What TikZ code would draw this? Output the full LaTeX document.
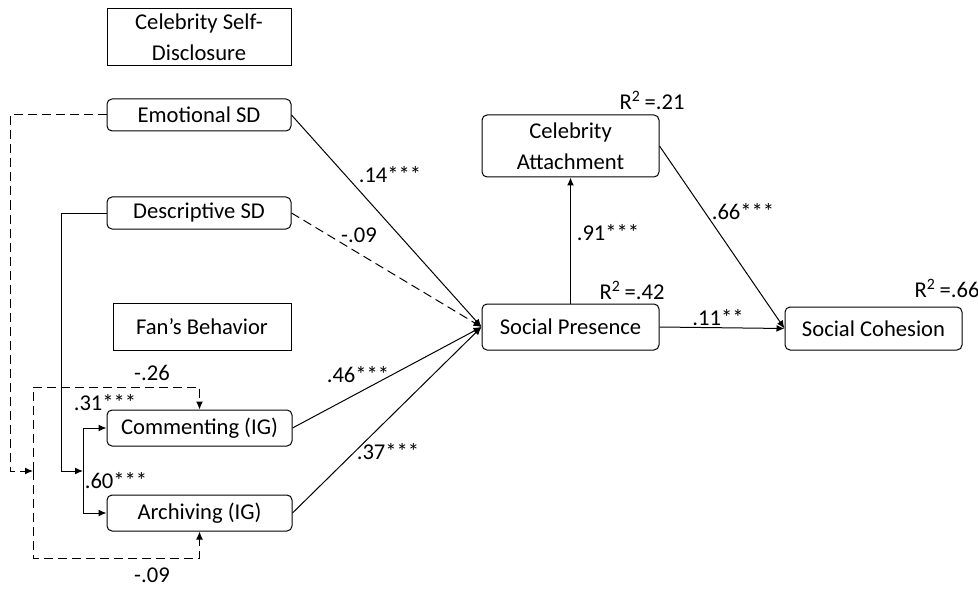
\documentclass[tikz,border=0pt]{standalone}
\usepackage{fontspec}
\setmainfont{Carlito}
\usetikzlibrary{arrows.meta}
\begin{document}
\begin{tikzpicture}[x=0.5pt, y=-0.5pt, >={Latex[length=4pt,width=3.4pt]},
    font=\fontsize{11.3}{15.5}\selectfont,
    box/.style={draw, rounded corners=2.5pt, align=center, inner sep=0pt, line width=0.5pt},
    hbox/.style={draw, align=center, inner sep=0pt, line width=0.5pt},
    arr/.style={->, line width=0.5pt},
    darr/.style={->, line width=0.5pt, dash pattern=on 4.5pt off 2.5pt}]
  \useasboundingbox (0,0) rectangle (978,588);
  \node[hbox, minimum width=92pt, minimum height=28.5pt] (csd) at (199,37) {Celebrity Self-\\Disclosure};
  \node[box, minimum width=92pt, minimum height=16pt] (emo) at (199,115) {Emotional SD};
  \node[box, minimum width=92pt, minimum height=16pt] (desc) at (199,213) {Descriptive SD};
  \node[hbox, minimum width=89pt, minimum height=23.5pt] (fan) at (202,326.5) {Fan’s Behavior};
  \node[box, minimum width=92.5pt, minimum height=18pt] (com) at (199.5,428) {Commenting (IG)};
  \node[box, minimum width=92.5pt, minimum height=18pt] (arc) at (199.5,513) {Archiving (IG)};
  \node[box, minimum width=88.5pt, minimum height=23pt] (sp) at (570.5,327) {Social Presence};
  \node[box, minimum width=88.5pt, minimum height=31pt] (ca) at (570.5,146) {Celebrity\\Attachment};
  \node[box, minimum width=88.5pt, minimum height=21.5pt] (sc) at (873.5,328.5) {Social Cohesion};
  \coordinate (modE) at (33,471);
  \coordinate (modD) at (83,471);
  \draw[darr] (emo.west) -| (10,471) -- (modE);
  \draw[darr] (modE) -- (33,387) -| (com.north);
  \draw[darr] (modE) -- (33,558) -| (arc.south);
  \draw[arr] (desc.west) -| (61,471) -- (modD);
  \draw[arr] (modD) |- (com.west);
  \draw[arr] (modD) |- (arc.west);
  \draw[arr] (emo.east) -- (sp.west);
  \draw[darr] (desc.east) -- (sp.west);
  \draw[arr] (com.east) -- (sp.west);
  \draw[arr] (arc.east) -- (sp.west);
  \draw[arr] (sp.north) -- (ca.south);
  \draw[arr] (ca.east) -- (sc.west);
  \draw[arr] (sp.east) -- (sc.west);
  \node (b26) at (152,373) {-.26};
  \node (b09) at (152,575) {-.09};
  \node (b31) at (105,403) {.31***};
  \node (b60) at (116,481) {.60***};
  \node (b14) at (390,175) {.14***};
  \node (bd09) at (359,235) {-.09};
  \node (b46) at (358,375) {.46***};
  \node (b37) at (388,452) {.37***};
  \node (b91) at (608,233) {.91***};
  \node (b66) at (743,212) {.66***};
  \node (b11) at (718,318) {.11**};
  \node (r21) at (652,100) {R\textsuperscript{2}\,=.21};
  \node (r42) at (632,290) {R\textsuperscript{2}\,=.42};
  \node (r66) at (947,288) {R\textsuperscript{2}\,=.66};
\end{tikzpicture}
\end{document}
